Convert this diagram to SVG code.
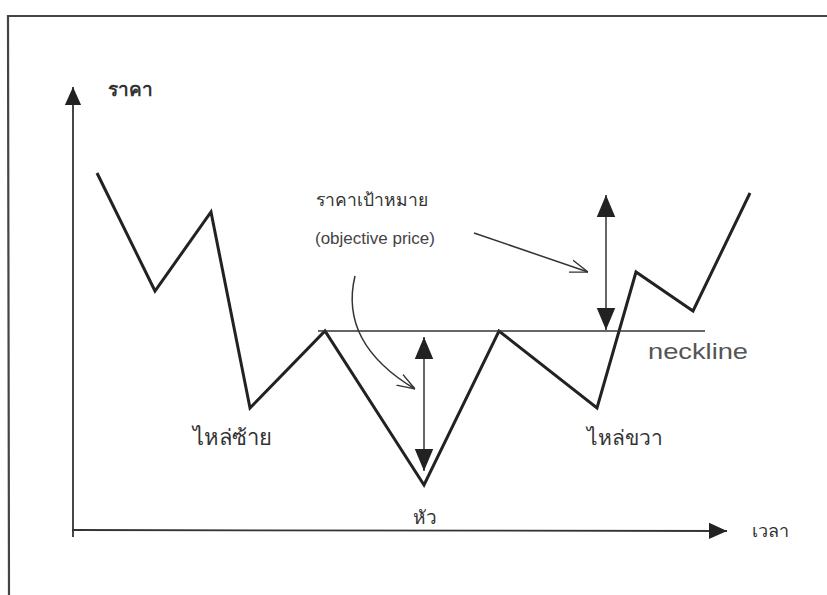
<svg xmlns="http://www.w3.org/2000/svg" width="827" height="595" viewBox="0 0 827 595">
<style>
.t{font-family:"Noto Sans","DejaVu Sans",sans-serif;fill:#333}
.line{fill:none;stroke:#222;stroke-width:3;stroke-linejoin:miter}
.thin{fill:none;stroke:#333;stroke-width:1.5}
.ax{fill:none;stroke:#333;stroke-width:1.8}
</style>
<defs>
<marker id="solid" viewBox="0 0 10 10" refX="10" refY="5" markerWidth="18" markerHeight="18" markerUnits="userSpaceOnUse" orient="auto-start-reverse">
<path d="M0,0.5 L10,5 L0,9.5 Z" fill="#222"/>
</marker>
<marker id="big" viewBox="0 0 10 10" refX="10" refY="5" markerWidth="22" markerHeight="22" markerUnits="userSpaceOnUse" orient="auto-start-reverse">
<path d="M0,0.8 L10,5 L0,9.2 Z" fill="#222"/>
</marker>
<marker id="open" viewBox="0 0 10 10" refX="10" refY="5" markerWidth="18" markerHeight="18" markerUnits="userSpaceOnUse" orient="auto">
<path d="M0,1.5 L10,5 L0,8.5" fill="none" stroke="#333" stroke-width="0.8"/>
</marker>
</defs>
<rect width="827" height="595" fill="#fff"/>
<g id="frame">
<path d="M9,595 L8,16 L827,16" fill="none" stroke="#444" stroke-width="2.2"/>
</g>
<g id="axes">
<line class="ax" x1="73" y1="537" x2="73" y2="87" marker-end="url(#solid)"/>
<line class="ax" x1="72" y1="530" x2="727" y2="531" marker-end="url(#solid)"/>
</g>
<g id="connectors">
<polyline id="price" class="line" points="97,173 155,291 211,212 250,408 325,331 424,485 499,331 597,408 636,272 693,311 750,193"/>
<line id="neckline-line" class="thin" x1="318" y1="331" x2="705" y2="331"/>
<line id="target-left" class="thin" x1="424" y1="337" x2="424" y2="471" marker-start="url(#big)" marker-end="url(#big)"/>
<line id="target-right" class="thin" x1="606" y1="195" x2="606" y2="330" marker-start="url(#big)" marker-end="url(#big)"/>
<path id="curve-arrow" class="thin" d="M355,276 C342,330 375,365 415,389" marker-end="url(#open)"/>
<line id="straight-arrow" class="thin" x1="474" y1="233" x2="588" y2="272" marker-end="url(#open)"/>
</g>
<g id="label-price"><text class="t" x="108" y="96" font-size="19" font-weight="bold" fill="#222">ราคา</text></g>
<g id="label-target"><text class="t" x="372" y="206" font-size="17.5" text-anchor="middle" fill="#444">ราคาเป้าหมาย</text></g>
<g id="label-objective"><text x="375" y="244" font-size="17" text-anchor="middle" style="font-family:'Liberation Sans',sans-serif;fill:#444">(objective price)</text></g>
<g id="label-neckline"><text x="648" y="359" font-size="22" textLength="100" lengthAdjust="spacingAndGlyphs" style="font-family:'Liberation Sans',sans-serif;fill:#555">neckline</text></g>
<g id="label-left-shoulder"><text class="t" x="193" y="445" font-size="22">ไหล่ซ้าย</text></g>
<g id="label-right-shoulder"><text class="t" x="587" y="445" font-size="21">ไหล่ขวา</text></g>
<g id="label-head"><text class="t" x="425" y="524" font-size="19" text-anchor="middle">หัว</text></g>
<g id="label-time"><text class="t" x="752" y="537" font-size="18" fill="#555">เวลา</text></g>
</svg>
